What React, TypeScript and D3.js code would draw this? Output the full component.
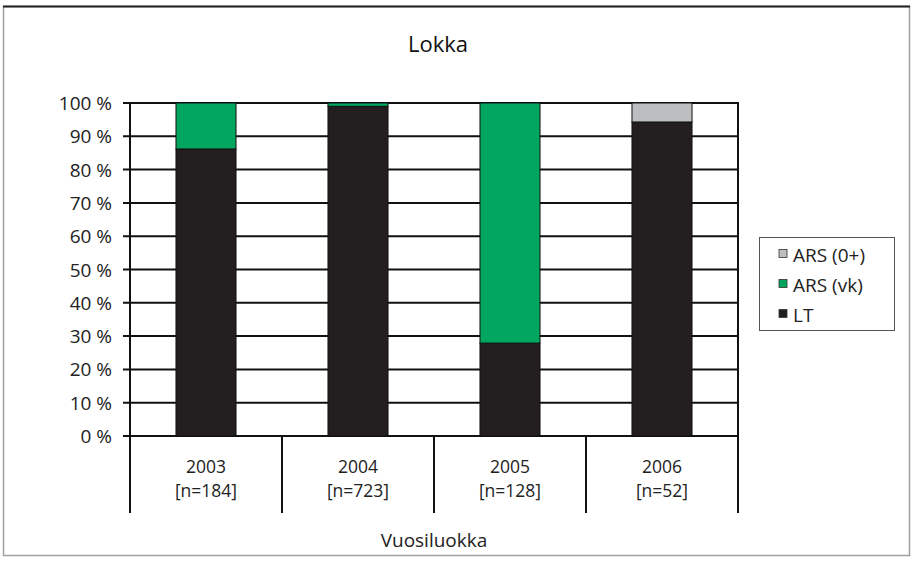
import React, { useEffect, useRef } from 'react'
import * as d3 from 'd3'

// Values (percent of each year class)
const years = ['2003', '2004', '2005', '2006']
const counts = ['[n=184]', '[n=723]', '[n=128]', '[n=52]']
const lt = [86.2, 99.0, 27.9, 94.3]
const arsVk = [13.8, 1.0, 72.1, 0]
const ars0 = [0, 0, 0, 5.7]
const seriesNames = ['LT', 'ARS (vk)', 'ARS (0+)']
const seriesColors = ['#231f20', '#00a65d', '#bcbec0']
const yTicks = [0, 10, 20, 30, 40, 50, 60, 70, 80, 90, 100]

const App: React.FC = () => {
  const gRef = useRef<SVGGElement | null>(null)

  useEffect(() => {
    const left = 130
    const right = 738
    const top = 103
    const bottom = 436
    const font = '"Open Sans", "DejaVu Sans", sans-serif'
    const fs = 19

    const svg = d3.select(gRef.current)
    svg.selectAll('*').remove()

    const x = d3.scaleBand().domain(years).range([left, right]).paddingInner(0.605).paddingOuter(0.3025)
    const band = d3.scaleBand().domain(years).range([left, right])
    const y = d3.scaleLinear().domain([0, 100]).range([bottom, top])

    const rows = years.map((yr, i) => ({ year: yr, LT: lt[i], 'ARS (vk)': arsVk[i], 'ARS (0+)': ars0[i] }))
    const stacked = d3.stack<any>().keys(seriesNames)(rows)

    // gridlines
    svg.append('g').selectAll('line').data(yTicks).enter().append('line')
      .attr('x1', left - 7).attr('x2', right)
      .attr('y1', (d) => y(d)).attr('y2', (d) => y(d))
      .attr('stroke', '#111').attr('stroke-width', 2)

    // bars
    svg.append('g').selectAll('g').data(stacked).enter().append('g')
      .attr('fill', (_d, i) => seriesColors[i])
      .selectAll('rect').data((d) => d).enter().append('rect')
      .attr('x', (d) => x(d.data.year)!)
      .attr('width', x.bandwidth())
      .attr('y', (d) => y(d[1]))
      .attr('height', (d) => y(d[0]) - y(d[1]))
      .attr('stroke', '#111').attr('stroke-width', (d) => (d[1] - d[0] > 0 ? 1 : 0))

    // axes
    svg.append('line').attr('x1', left).attr('x2', left).attr('y1', top - 1).attr('y2', 513)
      .attr('stroke', '#111').attr('stroke-width', 2)
    svg.append('line').attr('x1', right).attr('x2', right).attr('y1', top - 1).attr('y2', bottom)
      .attr('stroke', '#111').attr('stroke-width', 2)
    svg.append('g').selectAll('line').data(years).enter().append('line')
      .attr('x1', (d) => band(d)! + band.bandwidth()).attr('x2', (d) => band(d)! + band.bandwidth())
      .attr('y1', bottom).attr('y2', 513)
      .attr('stroke', '#111').attr('stroke-width', 2)

    // y tick labels
    svg.append('g').selectAll('text').data(yTicks).enter().append('text')
      .attr('x', 112).attr('y', (d) => y(d) + 7)
      .attr('text-anchor', 'end').attr('font-family', font).attr('font-size', fs).attr('fill', '#222')
      .text((d) => `${d} %`)

    // category labels
    const cat = svg.append('g').selectAll('g').data(years).enter().append('g')
    cat.append('text')
      .attr('x', (d) => band(d)! + band.bandwidth() / 2).attr('y', 473)
      .attr('text-anchor', 'middle').attr('font-family', font).attr('font-size', 17.5).attr('fill', '#222')
      .text((d) => d)
    cat.append('text')
      .attr('x', (d) => band(d)! + band.bandwidth() / 2).attr('y', 497)
      .attr('text-anchor', 'middle').attr('font-family', font).attr('font-size', 17.5).attr('fill', '#222')
      .text((_d, i) => counts[i])

    svg.append('text').attr('x', 434).attr('y', 547).attr('text-anchor', 'middle')
      .attr('font-family', font).attr('font-size', fs).attr('fill', '#222').text('Vuosiluokka')

    svg.append('text').attr('x', 438).attr('y', 52).attr('text-anchor', 'middle')
      .attr('font-family', font).attr('font-size', 22).attr('font-weight', 500).attr('fill', '#111').text('Lokka')

    // legend
    const lg = svg.append('g')
    lg.append('rect').attr('x', 759.5).attr('y', 237.5).attr('width', 135).attr('height', 93)
      .attr('fill', 'white').attr('stroke', '#555').attr('stroke-width', 1)
    const order = [2, 1, 0]
    order.forEach((si, k) => {
      const cy = 253.5 + k * 30
      lg.append('rect').attr('x', 779).attr('y', cy - 4).attr('width', 8).attr('height', 8)
        .attr('fill', seriesColors[si]).attr('stroke', '#333').attr('stroke-width', 0.8)
      lg.append('text').attr('x', 793).attr('y', cy + 8)
        .attr('font-family', font).attr('font-size', fs).attr('fill', '#222').text(seriesNames[si])
    })
  }, [])

  return (
    <div style={{ position: 'absolute', left: 0, top: 0, width: 913, height: 561 }}>
      <svg width={913} height={561} style={{ display: 'block' }}>
        <rect x={3.5} y={6.5} width={906} height={549} fill="white" stroke="#a0a0a0" strokeWidth={1.5} />
        <line x1={3} x2={910} y1={6.5} y2={6.5} stroke="#222" strokeWidth={2} />
        <g ref={gRef}></g>
      </svg>
    </div>
  )
}

export default App
